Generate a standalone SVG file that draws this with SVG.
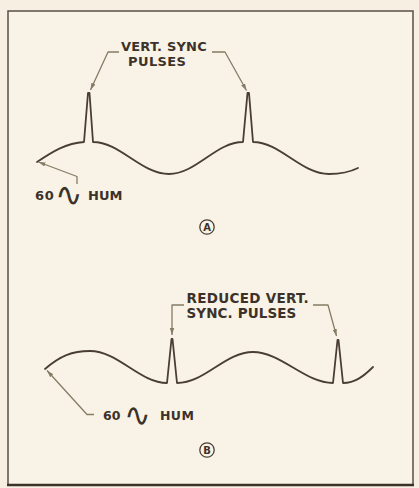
<svg xmlns="http://www.w3.org/2000/svg" width="419" height="488" viewBox="0 0 419 488">
<defs>
<style>
.wave{fill:none;stroke:#4a3e34;stroke-width:1.8;stroke-linejoin:round;stroke-linecap:round}
.lead{fill:none;stroke:#857c66;stroke-width:1.3;stroke-linejoin:round}
.lbl{font-family:"DejaVu Sans","Liberation Sans",sans-serif;font-weight:bold;fill:#3d3229}
.sym{font-family:"DejaVu Sans",sans-serif;font-weight:normal;fill:#3d3229}
.ring{fill:none;stroke:#4a3e34;stroke-width:1.3}
</style>
<marker id="arr" markerUnits="userSpaceOnUse" markerWidth="8" markerHeight="5" refX="7" refY="2.2" orient="auto">
<path d="M0,0 L7,2.2 L0,4.4 z" fill="#857c66"/>
</marker>
</defs>
<rect x="0" y="0" width="419" height="488" fill="#f7f0e2"/>
<g id="frame">
<rect x="8" y="11" width="405" height="474" fill="#f9f3e7" stroke="#5a4e44" stroke-width="1.5"/>
<line x1="7" y1="485" x2="414" y2="485" stroke="#3d3229" stroke-width="2.5"/>
</g>
<g id="waveform-a">
<path class="wave" d="M37,162 C52,152 66,143 84,142 L88,93 L89.5,93 L93,142 C120,142 141,174 169,174 C196,174 216,142 243,142 L247.5,93 L249,93 L253,142 C280,142 301,174 329,174 C340,174 350,172 358,168"/>
</g>
<g id="waveform-b">
<path class="wave" d="M45,369 C60,356 72,351 90,351 C118,351 140,383 167,383 L171.5,339 L172.5,339 L177,383 C205,383 225,352 253,352 C281,352 305,383 333,383 L337.5,340 L338.5,340 L343,383 C355,383 364,376 373,367"/>
</g>
<g id="label-a-sync">
<text class="lbl" font-size="13" letter-spacing="0.2" x="121" y="51">VERT. SYNC</text>
<text class="lbl" font-size="13" letter-spacing="0.4" x="128" y="65.5">PULSES</text>
</g>
<g id="label-a-hum">
<text class="lbl" font-size="13" y="200"><tspan x="35" letter-spacing="0.6">60</tspan><tspan class="sym" x="55" font-size="33" dy="6">∿</tspan><tspan x="88" dy="-6">HUM</tspan></text>
</g>
<g id="tag-a">
<circle class="ring" cx="207" cy="227" r="7.2"/>
<text class="lbl" font-size="10" x="207" y="230.6" text-anchor="middle">A</text>
</g>
<g id="label-b-sync">
<text class="lbl" font-size="13.5" letter-spacing="0.3" x="186.5" y="303">REDUCED VERT.</text>
<text class="lbl" font-size="13.5" letter-spacing="0.1" x="186.5" y="317.7">SYNC. PULSES</text>
</g>
<g id="label-b-hum">
<text class="lbl" font-size="12.5" y="420"><tspan x="103">60</tspan><tspan class="sym" x="124" font-size="32" dy="6">∿</tspan><tspan x="160" dy="-6" letter-spacing="0.4">HUM</tspan></text>
</g>
<g id="tag-b">
<circle class="ring" cx="207" cy="450" r="7.2"/>
<text class="lbl" font-size="10" x="207" y="453.6" text-anchor="middle">B</text>
</g>
<g id="connectors">
<path class="lead" marker-end="url(#arr)" d="M119,52 H108 L90.5,90"/>
<path class="lead" marker-end="url(#arr)" d="M212,52 H225 L246.5,90.5"/>
<path class="lead" marker-end="url(#arr)" d="M77,184 V176.5 L38.5,162"/>
<path class="lead" marker-end="url(#arr)" d="M184,305 H172 V335"/>
<path class="lead" marker-end="url(#arr)" d="M313,305 H328 L336.5,336"/>
<path class="lead" marker-end="url(#arr)" d="M94,414.5 H87 L47,370.5"/>
</g>
</svg>
